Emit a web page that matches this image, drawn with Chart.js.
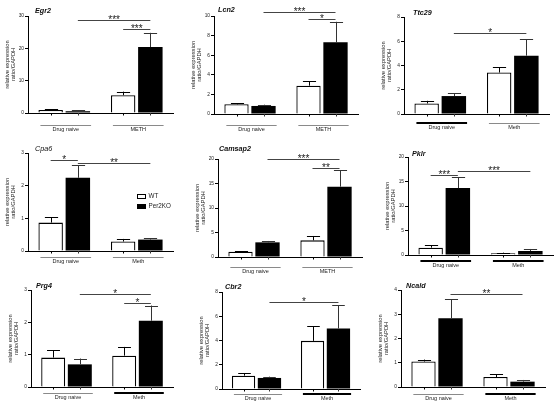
<!DOCTYPE html>
<html>
<head>
<meta charset="utf-8">
<script src="https://cdn.jsdelivr.net/npm/chart.js@4"></script>
<style>
  html, body { margin: 0; padding: 0; background: #fff; }
  #wrap { position: relative; width: 560px; height: 411px; overflow: hidden; }
  #wrap canvas { position: absolute; }
</style>
</head>
<body>
<div id="wrap"></div>
<script>
// --- data (mean and SEM, relative expression / GAPDH) ---
const genes = ['Egr2', 'Lcn2', 'Ttc29', 'Cpa6', 'Camsap2', 'Pklr', 'Prg4', 'Cbr2', 'Ncald'];
const groupNames = [
  ['Drug naive', 'METH'], ['Drug naive', 'METH'], ['Drug naive', 'Meth'],
  ['Drug naive', 'Meth'], ['Drug naive', 'METH'], ['Drug naive', 'Meth'],
  ['Drug naive', 'Meth'], ['Drug naive', 'Meth'], ['Drug naive', 'Meth'],
];
const wtMean = [[0.95, 5.5], [0.99, 2.89], [0.87, 3.42], [0.87, 0.29], [1.09, 3.4], [1.5, 0.34], [0.91, 0.97], [1.1, 3.97], [1.05, 0.41]];
const wtSem  = [[0.2, 1.1], [0.1, 0.44], [0.22, 0.43], [0.16, 0.08], [0.13, 0.89], [0.48, 0.14], [0.22, 0.27], [0.22, 1.19], [0.08, 0.11]];
const koMean = [[0.55, 20.4], [0.82, 7.31], [1.48, 4.81], [2.24, 0.35], [2.99, 14.35], [13.65, 0.82], [0.7, 2.05], [0.91, 4.99], [2.84, 0.22]];
const koSem  = [[0.25, 4.4], [0.13, 2.1], [0.24, 1.34], [0.38, 0.04], [0.28, 3.34], [2.25, 0.41], [0.18, 0.47], [0.11, 1.9], [0.77, 0.07]];
const yMax  = [30, 10, 8, 3, 20, 20, 3, 8, 4];
const yStep = [10, 2, 2, 1, 5, 5, 1, 2, 1];
// significance: [from bar, to bar, stars, height in axis units]; bars 0..3 = naive WT, naive KO, meth WT, meth KO
const sigMarks = [
  [[1, 3, '***', 28.8], [2, 3, '***', 26.0]],
  [[1, 3, '***', 10.4], [2, 3, '*', 9.7]],
  [[1, 3, '*', 6.68]],
  [[0, 1, '*', 2.79], [1, 3, '**', 2.69]],
  [[1, 3, '***', 20.0], [2, 3, '**', 18.2]],
  [[0, 1, '***', 16.3], [1, 3, '***', 17.1]],
  [[1, 3, '*', 2.88], [2, 3, '*', 2.6]],
  [[1, 3, '*', 7.18]],
  [[1, 3, '**', 3.84]],
];
const seriesNames = ['WT', 'Per2KO'];

const FONT = '"Liberation Sans", Arial, sans-serif';

// --- layout: canvas frame and plot area [left, top, right, bottom] in page pixels ---
const frames = [
  { x: 0,   y: 0,   w: 185, h: 140, area: [28, 16, 173, 113],  title: [35, 12.5],  under: 12, ustyle: ['thin', 'thin'] },
  { x: 185, y: 0,   w: 185, h: 140, area: [214, 16, 358, 114], title: [218, 12],   under: 11, ustyle: ['thin', 'thin'] },
  { x: 370, y: 0,   w: 190, h: 140, area: [404, 17, 549, 114], title: [413, 14.7], under: 9,  ustyle: ['thick', 'thin'] },
  { x: 0,   y: 135, w: 185, h: 145, area: [28, 153, 173, 251], title: [35, 151],   under: 6,  ustyle: ['thin', 'thin'], legend: true, plain: true },
  { x: 185, y: 135, w: 185, h: 145, area: [218, 159, 362, 257], title: [219, 151], under: 10, ustyle: ['thin', 'thin'] },
  { x: 370, y: 135, w: 190, h: 145, area: [408, 157, 553, 255], title: [412, 156], under: 6,  ustyle: ['thick', 'thick'] },
  { x: 0,   y: 270, w: 185, h: 141, area: [31, 290, 173, 387],  title: [36, 287.7], under: 6, ustyle: ['thin', 'thick'] },
  { x: 185, y: 270, w: 185, h: 141, area: [222, 292, 360, 389], title: [225, 289.3], under: 5, ustyle: ['thin', 'thick'] },
  { x: 370, y: 270, w: 190, h: 141, area: [401, 290, 545, 387], title: [406, 288],  under: 7, ustyle: ['thin', 'thick'] },
];

// error bars, significance lines, group underlines, titles and legend
const decor = {
  id: 'decor',
  afterDraw(chart, args, opts) {
    const i = opts.idx;
    const f = frames[i];
    const ctx = chart.ctx;
    const ys = chart.scales.y;
    const m0 = chart.getDatasetMeta(0).data;
    const m1 = chart.getDatasetMeta(1).data;
    const bars = [m0[0], m1[0], m0[1], m1[1]];
    const means = [wtMean[i][0], koMean[i][0], wtMean[i][1], koMean[i][1]];
    const sems = [wtSem[i][0], koSem[i][0], wtSem[i][1], koSem[i][1]];
    ctx.save();

    // error bars (upper only) and small x ticks at bar centres
    bars.forEach(function (b, k) {
      const cx = Math.round(b.x) + 0.5;
      const top = ys.getPixelForValue(means[k]);
      const e = ys.getPixelForValue(means[k] + sems[k]);
      const cap = b.width * 0.27;
      ctx.strokeStyle = k % 2 ? '#333' : '#000';
      ctx.lineWidth = 1;
      ctx.beginPath();
      ctx.moveTo(cx, top);
      ctx.lineTo(cx, e);
      ctx.moveTo(cx - cap, Math.round(e) + 0.5);
      ctx.lineTo(cx + cap, Math.round(e) + 0.5);
      ctx.moveTo(cx, ys.bottom);
      ctx.lineTo(cx, ys.bottom + 2.5);
      ctx.stroke();
    });

    // significance lines
    ctx.font = '10px ' + FONT;
    ctx.textAlign = 'center';
    ctx.textBaseline = 'alphabetic';
    sigMarks[i].forEach(function (s) {
      const a = bars[s[0]].x, b = bars[s[1]].x;
      const y = Math.round(ys.getPixelForValue(s[3])) + 0.5;
      ctx.strokeStyle = '#444';
      ctx.lineWidth = 1;
      ctx.beginPath();
      ctx.moveTo(a, y);
      ctx.lineTo(b, y);
      ctx.stroke();
      ctx.fillStyle = '#222';
      ctx.fillText(s[2], (a + b) / 2, y + 2);
    });

    // group underlines and labels
    const uy = ys.bottom + f.under;
    [0, 1].forEach(function (g) {
      const wt = bars[g * 2], ko = bars[g * 2 + 1];
      const x0 = wt.x - wt.width / 2 + 2;
      const x1 = ko.x + ko.width / 2 + 1;
      const thick = f.ustyle[g] === 'thick';
      ctx.strokeStyle = thick ? '#000' : '#8a8a8a';
      ctx.lineWidth = thick ? 2 : 1;
      ctx.beginPath();
      ctx.moveTo(x0, thick ? uy : Math.round(uy) + 0.5);
      ctx.lineTo(x1, thick ? uy : Math.round(uy) + 0.5);
      ctx.stroke();
      ctx.fillStyle = '#222';
      ctx.font = '5.5px ' + FONT;
      ctx.textBaseline = 'middle';
      ctx.fillText(groupNames[i][g], (x0 + x1) / 2, uy + 4.5);
    });

    // y axis title (two lines, rotated)
    ctx.save();
    ctx.translate(ys.right - 21, (ys.top + ys.bottom) / 2);
    ctx.rotate(-Math.PI / 2);
    ctx.font = '5.8px ' + FONT;
    ctx.fillStyle = '#222';
    ctx.textAlign = 'center';
    ctx.textBaseline = 'middle';
    ctx.fillText('relative expression', 0, 0);
    ctx.fillText('ratio/GAPDH', 0, 6);
    ctx.restore();

    // gene title
    ctx.font = (f.plain ? 'italic ' : 'italic bold ') + '7.2px ' + FONT;
    ctx.fillStyle = '#111';
    ctx.textAlign = 'left';
    ctx.textBaseline = 'alphabetic';
    ctx.fillText(genes[i], f.title[0] - f.x, f.title[1] - f.y);

    // legend
    if (f.legend) {
      const lx = 137.5 - f.x, ly = 194.5 - f.y;
      ctx.lineWidth = 1;
      ctx.strokeStyle = '#000';
      ctx.fillStyle = '#fff';
      ctx.fillRect(lx, ly, 8, 4);
      ctx.strokeRect(lx, ly, 8, 4);
      ctx.fillStyle = '#000';
      ctx.fillRect(lx - 0.5, ly + 9.5, 9, 5);
      ctx.font = '6.3px ' + FONT;
      ctx.fillStyle = '#222';
      ctx.textBaseline = 'middle';
      ctx.fillText(seriesNames[0], lx + 11, ly + 2);
      ctx.fillText(seriesNames[1], lx + 11, ly + 12);
    }
    ctx.restore();
  },
};

const wrap = document.getElementById('wrap');
frames.forEach(function (f, i) {
  const c = document.createElement('canvas');
  c.width = f.w;
  c.height = f.h;
  c.style.left = f.x + 'px';
  c.style.top = f.y + 'px';
  wrap.appendChild(c);
  const L = f.area[0], T = f.area[1], R = f.area[2], B = f.area[3];
  new Chart(c, {
    type: 'bar',
    data: {
      labels: groupNames[i],
      datasets: [
        {
          label: seriesNames[0],
          data: wtMean[i],
          backgroundColor: '#fff',
          borderColor: '#000',
          borderWidth: 1.3,
          borderSkipped: 'bottom',
          categoryPercentage: 0.75,
          barPercentage: 0.9,
        },
        {
          label: seriesNames[1],
          data: koMean[i],
          backgroundColor: '#000',
          borderWidth: 0,
          categoryPercentage: 0.75,
          barPercentage: 0.9,
        },
      ],
    },
    options: {
      responsive: false,
      animation: false,
      devicePixelRatio: 1,
      layout: { padding: { left: 0, top: T - f.y, right: f.x + f.w - R, bottom: 0 } },
      plugins: { legend: { display: false }, tooltip: { enabled: false }, decor: { idx: i } },
      scales: {
        x: {
          grid: { display: false },
          border: { color: '#000', width: 1 },
          ticks: { display: false },
          afterFit: (s) => { s.height = f.y + f.h - B; },
        },
        y: {
          min: 0,
          max: yMax[i],
          ticks: { stepSize: yStep[i], color: '#222', padding: 1, font: { size: 4.8, family: FONT } },
          grid: { drawOnChartArea: false, tickLength: 3, color: '#000' },
          border: { color: '#000', width: 1 },
          afterFit: (s) => { s.width = L - f.x; },
        },
      },
    },
    plugins: [decor],
  });
});
</script>
</body>
</html>
